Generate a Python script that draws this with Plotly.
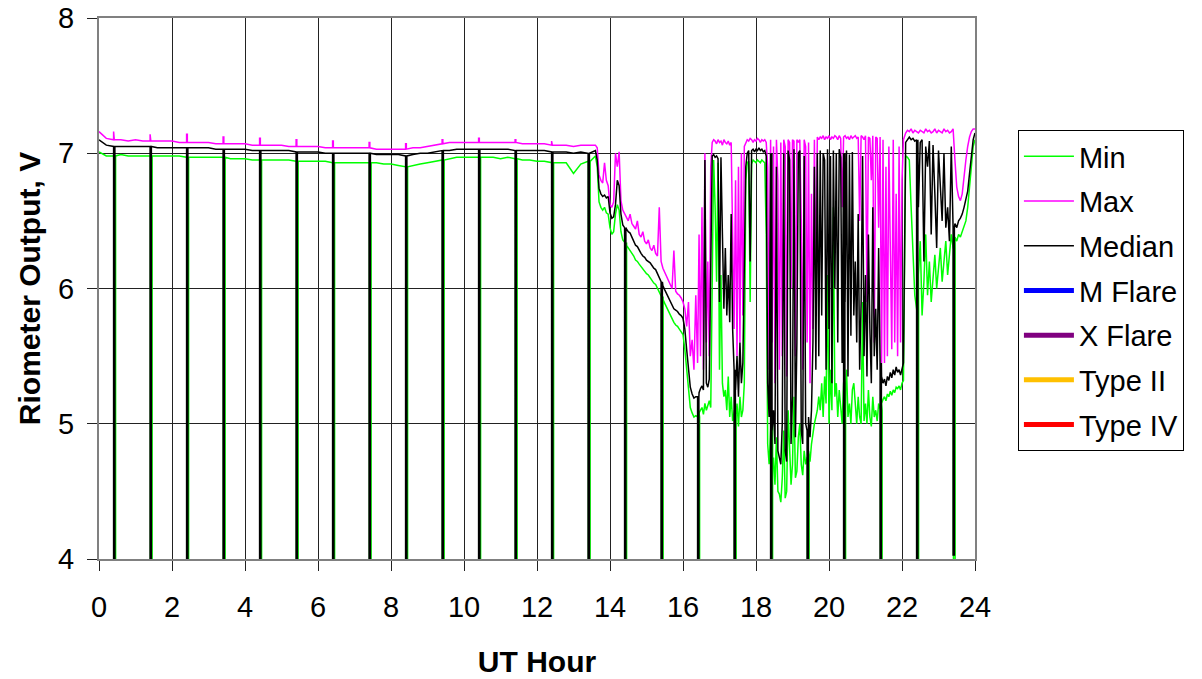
import plotly.graph_objects as go

# ---------------- data ----------------
# Segment A: quiet period, sampled every 0.2 h from 0.0 to 13.4
TIME_A = [round(0.2 * k, 2) for k in range(68)]
MAX_A = [7.16, 7.11, 7.10, 7.10, 7.09, 7.10, 7.09, 7.09, 7.09, 7.09,
         7.09, 7.08, 7.08, 7.08, 7.08, 7.08, 7.07, 7.07, 7.07, 7.07,
         7.07, 7.06, 7.06, 7.06, 7.06, 7.06, 7.05, 7.05, 7.05, 7.05,
         7.05, 7.04, 7.04, 7.04, 7.04, 7.04, 7.04, 7.04, 7.03, 7.03,
         7.03, 7.03, 7.03, 7.04, 7.04, 7.05, 7.06, 7.07, 7.08, 7.08,
         7.08, 7.08, 7.08, 7.08, 7.08, 7.08, 7.08, 7.08, 7.07, 7.07,
         7.07, 7.07, 7.06, 7.06, 7.06, 7.05, 7.06, 7.06]
MED_A = [7.10, 7.06, 7.05, 7.05, 7.05, 7.05, 7.05, 7.05, 7.04, 7.04,
         7.04, 7.04, 7.04, 7.04, 7.04, 7.04, 7.03, 7.03, 7.03, 7.03,
         7.03, 7.02, 7.02, 7.02, 7.02, 7.02, 7.02, 7.01, 7.01, 7.01,
         7.01, 7.00, 7.00, 7.00, 7.00, 7.00, 7.00, 7.00, 6.99, 6.99,
         6.99, 6.99, 6.98, 6.99, 7.00, 7.00, 7.01, 7.02, 7.02, 7.03,
         7.03, 7.03, 7.03, 7.03, 7.03, 7.03, 7.03, 7.02, 7.02, 7.02,
         7.02, 7.02, 7.01, 7.01, 7.01, 7.00, 7.01, 7.00]
MIN_A = [7.01, 6.98, 6.98, 6.99, 6.98, 6.98, 6.98, 6.98, 6.98, 6.98,
         6.98, 6.98, 6.97, 6.97, 6.97, 6.97, 6.97, 6.97, 6.96, 6.96,
         6.96, 6.95, 6.95, 6.95, 6.95, 6.95, 6.95, 6.94, 6.94, 6.94,
         6.94, 6.94, 6.93, 6.93, 6.93, 6.93, 6.93, 6.93, 6.93, 6.92,
         6.92, 6.91, 6.90, 6.91, 6.92, 6.93, 6.94, 6.95, 6.96, 6.97,
         6.97, 6.97, 6.97, 6.97, 6.97, 6.96, 6.97, 6.96, 6.95, 6.95,
         6.94, 6.94, 6.93, 6.93, 6.93, 6.85, 6.92, 6.94]

# Segment B: decline, every 0.05 h from 13.60 to 16.35
TIME_B = [round(13.60 + 0.05 * k, 2) for k in range(56)]
MAX_B = [7.06, 7.04, 6.84, 6.80, 6.78, 6.93, 6.80, 6.76, 6.62, 6.60,
         6.64, 7.00, 6.90, 7.01, 6.65, 6.58, 6.55, 6.52, 6.50, 6.55,
         6.48, 6.46, 6.44, 6.50, 6.40, 6.38, 6.42, 6.35, 6.33, 6.36,
         6.30, 6.28, 6.32, 6.26, 6.24, 6.60, 6.20, 6.15, 6.12, 6.10,
         6.06, 6.03, 6.00, 6.28, 5.98, 5.96, 5.95, 5.93, 5.90, 5.85,
         5.72, 5.90, 5.50, 5.62, 5.40, 5.95]
MED_B = [7.02, 6.95, 6.74, 6.70, 6.68, 6.69, 6.67, 6.68, 6.56, 6.52,
         6.53, 6.62, 6.80, 6.76, 6.55, 6.47, 6.45, 6.44, 6.42, 6.41,
         6.38, 6.35, 6.32, 6.31, 6.28, 6.26, 6.24, 6.23, 6.21, 6.20,
         6.19, 6.17, 6.15, 6.14, 6.11, 6.08, 6.05, 6.02, 5.99, 5.96,
         5.94, 5.90, 5.87, 5.85, 5.84, 5.83, 5.81, 5.80, 5.78, 5.70,
         5.55, 5.38, 5.27, 5.22, 5.19, 5.20]
MIN_B = [6.98, 6.90, 6.64, 6.60, 6.58, 6.60, 6.56, 6.55, 6.45, 6.40,
         6.42, 6.55, 6.62, 6.58, 6.42, 6.36, 6.34, 6.32, 6.30, 6.28,
         6.26, 6.24, 6.21, 6.20, 6.18, 6.16, 6.14, 6.13, 6.11, 6.10,
         6.08, 6.06, 6.04, 6.03, 6.00, 5.97, 5.94, 5.92, 5.89, 5.86,
         5.84, 5.80, 5.78, 5.75, 5.73, 5.72, 5.70, 5.68, 5.66, 5.55,
         5.40, 5.22, 5.12, 5.08, 5.05, 5.06]

# Segment C: disturbed period, every 0.04 h from 16.40 to 22.04
TIME_C = [round(16.40 + 0.04 * k, 2) for k in range(142)]
MAX_C = [5.45, 6.40, 5.50, 6.60, 5.40, 7.00, 5.60, 6.20, 5.50, 6.90,
         7.08, 7.10, 7.09, 7.07, 7.10, 7.08, 7.09, 7.06, 7.10, 7.08,
         7.07, 7.09, 7.06, 7.08, 6.20,
         5.70, 6.80, 5.50, 6.90, 5.60, 7.00, 5.80, 7.05, 7.08,
         7.10, 7.09, 7.11, 7.10, 7.08, 7.10, 7.09, 7.11, 7.10, 7.08,
         7.10, 7.09, 7.10, 7.08,
         6.90, 5.40, 7.10, 5.60, 7.05, 5.30, 7.10, 6.80, 5.40, 7.08,
         5.50, 7.10, 7.05, 5.35, 7.10, 7.08, 6.00, 7.10, 7.09, 5.50,
         7.10, 7.08, 7.10, 6.50, 5.40, 7.10, 7.05, 5.60, 7.08, 5.30,
         6.70, 5.70, 7.10, 6.00, 7.12,
         7.10, 7.12, 7.11, 7.13, 7.10, 7.12, 7.11, 7.13, 7.10, 7.12,
         7.11, 7.13, 7.12, 7.10, 7.13, 7.11, 6.60, 7.12, 7.13, 7.11,
         7.12, 7.10, 7.13, 7.11, 7.12,
         7.13, 7.11, 7.12, 6.50, 7.13, 7.12, 7.10, 7.13, 5.90, 7.12,
         7.11, 6.80, 7.13, 5.60, 7.12, 7.11, 6.45, 7.12, 5.45,
         7.10, 5.45, 6.90, 5.50, 7.05, 6.40, 5.55, 7.10, 5.60, 6.70,
         5.50, 7.05, 5.60, 6.80, 7.10]
MED_C = [5.20, 5.23, 5.26, 5.28, 5.25, 6.95, 5.30, 5.27, 5.33, 6.20,
         6.98, 6.99, 6.97, 6.98, 6.96, 5.90, 6.97, 6.40, 5.85, 6.30,
         5.80, 6.10, 5.75, 6.55, 5.70,
         5.40, 5.25, 5.50, 5.20, 5.60, 5.30, 5.45, 6.10, 6.90,
         7.00, 7.02, 6.20, 7.02, 7.03, 7.01, 7.03, 7.02, 7.04, 7.02,
         7.03, 7.01, 7.02, 6.98,
         5.30, 5.05, 7.00, 4.95, 5.10, 4.85, 6.90, 4.80, 4.75, 4.70,
         5.00, 7.00, 4.80, 4.72, 7.02, 6.95, 4.85, 5.20, 7.03, 4.90,
         5.60, 7.00, 7.02, 4.95, 4.85, 6.98, 5.00, 4.95, 5.05, 4.90,
         5.10, 5.60, 6.90, 5.40, 7.00,
         5.50, 7.02, 5.80, 7.00, 6.95, 5.40, 7.03, 5.70, 6.98, 5.30,
         7.02, 6.00, 7.00, 5.60, 7.03, 6.97, 5.45, 7.00, 5.90, 7.02,
         5.35, 6.99, 5.65, 7.01, 5.80,
         6.20, 5.60, 6.55, 5.40, 5.90, 6.98, 5.50, 6.10, 5.35, 6.40,
         5.70, 5.30, 6.60, 5.50, 5.85, 5.40, 6.30, 5.45, 5.35,
         5.30, 5.33, 5.28, 5.35, 5.32, 5.38, 5.34, 5.40, 5.36, 5.42,
         5.38, 5.40, 5.36, 5.42, 5.45]
MIN_C = [5.05, 5.08, 5.10, 5.12, 5.07, 5.15, 5.10, 5.13, 5.17, 5.12,
         6.30, 6.95, 6.60, 6.05, 6.93, 5.40, 6.10, 5.30, 5.20, 5.25,
         5.10, 5.35, 5.05, 5.20, 5.02,
         5.10, 5.02, 5.15, 4.98, 5.20, 5.05, 5.10, 5.30, 6.80,
         6.93, 6.94, 5.90, 6.92, 6.95, 6.94, 6.93, 6.95, 6.94, 6.93,
         6.95, 6.94, 6.93, 6.40,
         4.85, 4.70, 5.00, 4.65, 4.75, 4.55, 4.90, 4.50, 4.48, 4.42,
         4.60, 4.95, 4.45, 4.50, 5.10, 4.80, 4.55, 4.70, 5.20, 4.60,
         4.65, 4.90, 5.00, 4.70, 4.62, 4.80, 4.70, 4.75, 4.80, 4.72,
         4.85, 4.95, 5.00, 5.05, 5.10,
         5.20, 5.10, 5.30, 5.05, 5.35, 5.15, 6.10, 5.00, 5.40, 5.10,
         6.60, 5.20, 5.30, 5.05, 5.25, 5.10, 5.00, 5.30, 5.20, 5.40,
         5.05, 5.15, 5.00, 5.25, 5.30,
         5.10, 5.00, 5.20, 5.05, 5.00, 5.90, 5.02, 5.15, 5.00, 5.25,
         5.05, 4.98, 5.20, 5.05, 5.10, 5.02, 5.15, 5.10, 5.15,
         5.18, 5.20, 5.17, 5.22, 5.20, 5.24, 5.21, 5.25, 5.23, 5.27,
         5.26, 5.28, 5.25, 5.30, 5.32]

# Segment D: recovery, every 0.05 h from 22.10 to 24.00
TIME_D = [round(22.10 + 0.05 * k, 2) for k in range(39)]
MAX_D = [7.15, 7.17, 7.16, 7.18, 7.15, 7.17, 7.16,
         7.15, 7.17, 7.16, 7.15, 7.18, 7.16, 7.17, 7.15, 7.16, 7.18,
         7.15, 7.17, 7.16, 7.15, 7.18, 7.16, 7.17, 7.15, 7.16, 7.18,
         6.95, 6.75, 6.68, 6.65, 6.70, 6.85,
         6.95, 7.05, 7.12, 7.16, 7.18, 7.18]
MED_D = [7.08, 7.10, 7.12, 7.10, 7.11, 7.09, 7.10,
         6.60, 7.08, 7.10, 6.20, 7.05, 6.90, 7.09, 6.40, 7.06, 6.70,
         6.30, 7.02, 6.80, 6.50, 7.00, 6.45, 6.60, 6.35, 7.05, 6.45,
         6.48, 6.45, 6.50, 6.52, 6.55, 6.60,
         6.65, 6.72, 6.85, 7.00, 7.10, 7.15]
MIN_D = [6.98, 6.97, 6.95, 6.60, 6.30, 5.95, 5.85,
         6.10, 6.35, 5.80, 6.05, 6.40, 5.95, 6.20, 5.90, 6.10, 6.25,
         6.00, 6.15, 6.30, 6.05, 6.20, 6.35, 6.10, 6.25, 6.40, 6.30,
         6.38, 6.35, 6.40, 6.38, 6.42, 6.45,
         6.50, 6.60, 6.75, 6.90, 7.05, 7.10]

# hourly calibration drops (start hour of each drop) and spike heights of Max
DIP_MED_HOURS = [0.40, 1.40, 2.40, 3.40, 4.40, 5.40, 6.40, 7.40, 8.40, 9.40,
                 10.40, 11.40, 12.40, 13.40, 14.40, 15.40, 16.40, 17.40,
                 18.40, 19.40, 20.40, 21.40, 22.40, 23.40]
DIP_MIN_HOURS = [0.41, 1.41, 2.41, 3.41, 4.41, 5.41, 6.41, 7.41, 8.41, 9.41,
                 10.41, 11.41, 12.41, 13.41, 14.41, 15.41, 16.41, 17.41,
                 18.41, 19.41, 20.41, 21.41, 22.41, 23.41]
DIP_MED_LEVEL = [3.0] * 23 + [4.03]
DIP_MIN_LEVEL = [3.0] * 24
MAX_SPIKE_HOURS = [0.40, 1.40, 2.40, 3.40, 4.40, 5.40, 6.40, 7.40, 8.40, 9.40,
                   10.40, 11.40, 12.40]
MAX_SPIKE_LEVEL = [7.16, 7.14, 7.14, 7.12, 7.11, 7.10, 7.09, 7.08, 7.07,
                   7.10, 7.11, 7.10, 7.09]

LEGEND_NAMES = ["Min", "Max", "Median", "M Flare", "X Flare", "Type II", "Type IV"]
LEGEND_COLORS = ["#00FF00", "#FF00FF", "#000000", "#0000FF", "#800080",
                 "#FFC000", "#FF0000"]

for arr_t, arrs in [(TIME_A, [MAX_A, MED_A, MIN_A]), (TIME_B, [MAX_B, MED_B, MIN_B]),
                    (TIME_C, [MAX_C, MED_C, MIN_C]), (TIME_D, [MAX_D, MED_D, MIN_D])]:
    for a in arrs:
        assert len(a) == len(arr_t), (len(a), len(arr_t))


def with_events(t, v, ev_t, ev_v, width):
    xs, ys = [], []
    for i in range(len(t)):
        xs.append(t[i])
        ys.append(v[i])
        nxt = t[i + 1] if i + 1 < len(t) else 1e9
        for d, dv in zip(ev_t, ev_v):
            if t[i] <= d < nxt:
                xs += [d, d, d + width, d + width]
                ys += [v[i], dv, dv, v[i]]
    return xs, ys


T = TIME_A + TIME_B + TIME_C + TIME_D
MX = MAX_A + MAX_B + MAX_C + MAX_D
MD = MED_A + MED_B + MED_C + MED_D
MN = MIN_A + MIN_B + MIN_C + MIN_D

x_min, y_min = with_events(T, MN, DIP_MIN_HOURS, DIP_MIN_LEVEL, 0.045)
x_max, y_max = with_events(T, MX, MAX_SPIKE_HOURS, MAX_SPIKE_LEVEL, 0.02)
x_med, y_med = with_events(T, MD, DIP_MED_HOURS, DIP_MED_LEVEL, 0.035)

FONT = "Arial, 'Liberation Sans', sans-serif"

fig = go.Figure()
series = [(x_min, y_min), (x_max, y_max), (x_med, y_med)]
for k, name in enumerate(LEGEND_NAMES):
    if k < 3:
        xs, ys = series[k]
        fig.add_trace(go.Scatter(x=xs, y=ys, mode="lines", name=name,
                                 legendgroup=name,
                                 line=dict(color=LEGEND_COLORS[k], width=1.5)))
    else:
        fig.add_trace(go.Scatter(x=[None], y=[None], mode="lines", name=name,
                                 legendgroup=name,
                                 line=dict(color=LEGEND_COLORS[k], width=5)))

axis_common = dict(showgrid=True, gridcolor="#222222", gridwidth=1,
                   ticks="outside", ticklen=10, tickcolor="#222222", tickwidth=1,
                   showline=True, linecolor="#808080", linewidth=2, mirror=True,
                   zeroline=False, automargin=False,
                   tickfont=dict(family=FONT, size=29, color="black"))

fig.update_xaxes(range=[0, 24], tick0=0, dtick=2, ticklabelstandoff=11,
                 title=dict(text="<b>UT Hour</b>", font=dict(family=FONT, size=30),
                            standoff=29),
                 **axis_common)
fig.update_yaxes(range=[4, 8], tick0=4, dtick=1, ticklabelstandoff=7,
                 title=dict(text="<b>Riometer Output, V</b>",
                            font=dict(family=FONT, size=30), standoff=9),
                 **axis_common)

fig.update_layout(
    width=1202, height=679, autosize=False,
    margin=dict(l=99, r=227, t=18, b=120),
    plot_bgcolor="white", paper_bgcolor="white",
    font=dict(family=FONT, size=29, color="black"),
    legend=dict(x=1.049, y=0.793, xanchor="left", yanchor="top",
                bordercolor="black", borderwidth=1, bgcolor="white",
                font=dict(family=FONT, size=29), tracegroupgap=4,
                traceorder="grouped", itemwidth=50),
)

# remove the browser's default 8 px body margin so the figure fills the window
fig.write_html("out.html", config={"displayModeBar": False},
               post_script="document.body.style.margin='0';")
